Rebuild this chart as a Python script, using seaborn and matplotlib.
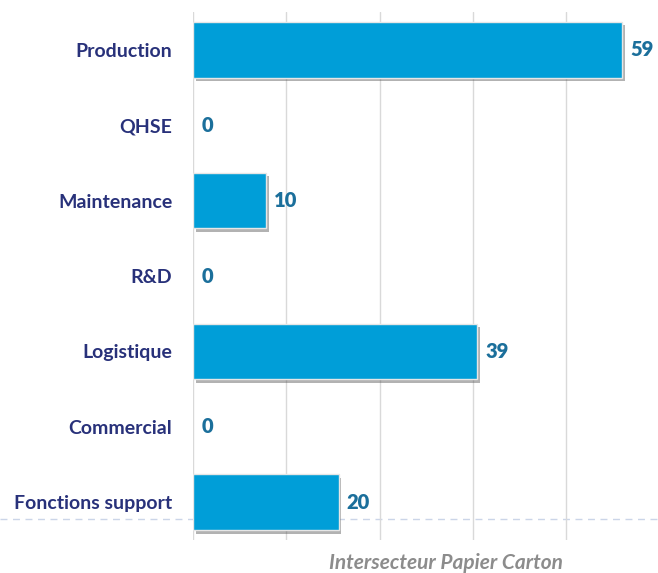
import matplotlib
matplotlib.use("Agg")
import matplotlib.pyplot as plt
import matplotlib.patheffects as pe
from matplotlib.lines import Line2D
from matplotlib.ticker import MultipleLocator
import seaborn as sns
import pandas as pd

categories = ["Production", "QHSE", "Maintenance", "R&D", "Logistique", "Commercial", "Fonctions support"]
values = [59, 0, 10, 0, 39, 0, 20]
title = "Intersecteur Papier Carton"

bar_color = "#009ED8"
label_color = "#28317A"
value_color = "#1B6F9B"


def main():
    sns.set_theme(style="white")
    plt.rcParams["font.family"] = ["Lato", "DejaVu Sans"]

    df = pd.DataFrame({"cat": categories, "val": values})

    fig = plt.figure(figsize=(6.58, 5.73), dpi=100)
    ax = fig.add_axes([193 / 658, 1 - 540 / 573, 1 - 193 / 658, (540 - 12) / 573])
    ax.set_facecolor("none")

    sns.barplot(data=df, x="val", y="cat", orient="h", color=bar_color,
                saturation=1, width=0.74, edgecolor="#E6E6E6", linewidth=1,
                ax=ax, zorder=3)

    for patch, v in zip(ax.patches, values):
        if v == 0:
            patch.set_visible(False)
        else:
            patch.set_path_effects([pe.SimplePatchShadow(offset=(2, -2.5), shadow_rgbFace="#555555", alpha=0.45),
                                    pe.Normal()])

    ax.bar_label(ax.containers[0], padding=6, fontsize=14.5, fontweight="heavy", color=value_color)

    ax.set_xlim(0, 63.9)
    ax.xaxis.set_major_locator(MultipleLocator(12.82))
    ax.grid(axis="x", color="#D9D9D9", linewidth=1, zorder=0)
    ax.set_axisbelow(True)
    ax.set_xticklabels([])
    ax.tick_params(axis="both", length=0)
    ax.tick_params(axis="y", pad=15, labelsize=14, labelcolor=label_color)
    for t in ax.get_yticklabels():
        t.set_fontweight("bold")
    ax.set_xlabel("")
    ax.set_ylabel("")
    sns.despine(ax=ax, left=True, bottom=True)

    fig.add_artist(Line2D([0, 1], [1 - 519 / 573, 1 - 519 / 573], transform=fig.transFigure,
                          color="#CBD5E8", linewidth=1, linestyle=(0, (5, 4)), zorder=-1))

    fig.text(446 / 658, 1 - 563 / 573, title, ha="center", va="center", fontsize=15,
             fontstyle="italic", fontweight="bold", color="#8C8C8C")

    fig.savefig("out.png", dpi=100)


if __name__ == "__main__":
    main()
